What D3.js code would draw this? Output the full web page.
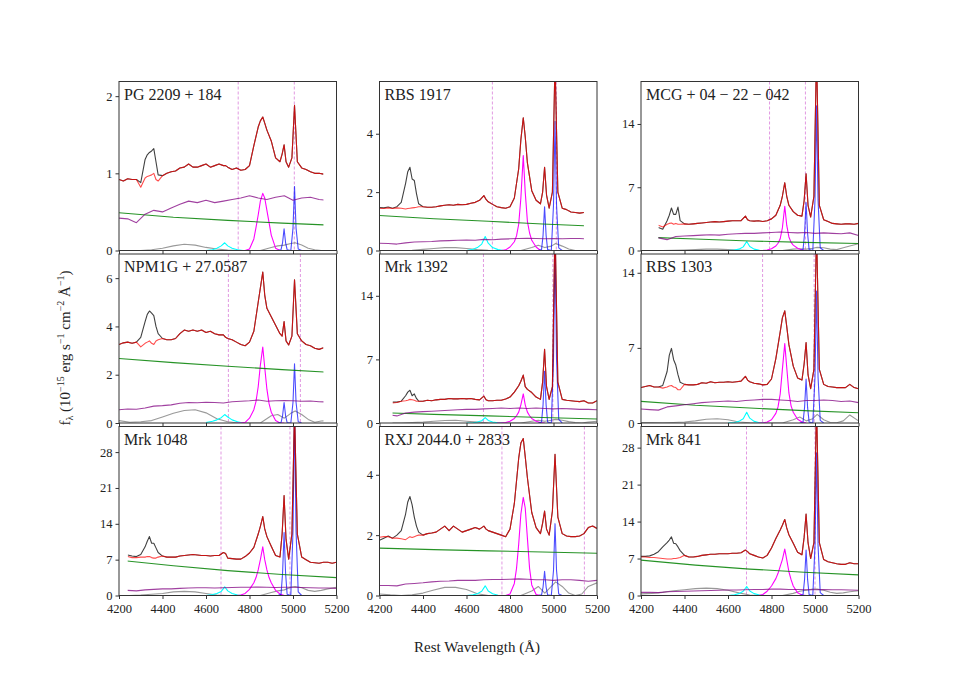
<!DOCTYPE html>
<html><head><meta charset="utf-8">
<script src="https://cdn.jsdelivr.net/npm/d3@7"></script>
<style>
body{margin:0;background:#fff}
svg{display:block}
text{font-family:"Liberation Serif","DejaVu Serif",serif;fill:#222}
</style>
</head><body>
<svg id="c" width="954" height="681"></svg>
<script>
// ---------- data ----------
const NAMES = ["PG 2209 + 184","RBS 1917","MCG + 04 − 22 − 042",
               "NPM1G + 27.0587","Mrk 1392","RBS 1303",
               "Mrk 1048","RXJ 2044.0 + 2833","Mrk 841"];
const YMAX = [2.19, 5.79, 18.7, 7.0, 18.6, 15.75, 33.0, 5.6, 32.0];
const YTICKS = [[0,1,2],[0,2,4],[0,7,14],[0,2,4,6],[0,7,14],[0,7,14],[0,7,14,21,28],[0,2,4],[0,7,14,21,28]];
const XTICKS = [4200,4400,4600,4800,5000,5200];
const RANGE = [[4200,5140],[4200,5140],[4280,5200],[4200,5140],[4260,5200],[4200,5200],[4240,5200],[4200,5200],[4200,5200]];
const VLINES = [[4748,5006],[4719,5013],[4791,4956],[4703,5034],[4678,4997],[4759,4996],[4669,4986],[4763,5142],[4685,5000]];

// wavelength grid for observed spectrum and total model
const WAVE = [4200,4220,4240,4260,4280, 4300,4320,4330,4340,4350,4360,4370,4380,
  4400,4420,4440,4460,4480,4500,4520,4540,4560,4580,4600,4620,4640,4660,4680,
  4690,4700,4720,4740,4760,4780,4800,4820,4840, 4850,4861,4870,4880,4900,4920,4940,
  4950,4959,4968,4980,4995,5007, 5020,5040,5060,5080,5100,5120,5140,5160,5180,5200];

const OBS = [
 [0.92,0.90,0.93,0.92,0.92, 0.88,1.18,1.24,1.27,1.29,1.32,1.15,0.98, 0.97,1.00,1.02,1.03,1.07,1.08,1.12,1.08,1.08,1.10,1.12,1.08,1.10,1.12,1.10, 1.10,1.08,1.05,1.07,1.04,1.05,1.10,1.36,1.60, 1.68,1.73,1.65,1.56,1.42,1.20,1.15, 1.25,1.37,1.15,1.08,1.20,1.88, 1.15,1.07,1.05,1.02,1.00,1.00,0.99,null,null,null],
 [1.47,1.46,1.49,1.45,1.50, 1.65,2.30,2.70,2.85,2.45,2.40,1.95,1.60, 1.50,1.48,1.48,1.50,1.53,1.55,1.57,1.55,1.58,1.57,1.58,1.62,1.65,1.72,1.88, 1.75,1.67,1.58,1.50,1.47,1.45,1.50,1.80,2.80, 3.80,4.55,3.90,3.00,2.05,1.72,1.60, 2.00,2.85,1.90,1.45,2.00,6.50, 2.00,1.45,1.40,1.32,1.30,1.28,1.30,null,null,null],
 [null,null,null,null,2.55, 2.35,3.30,3.90,4.70,4.00,4.00,4.80,3.30, 2.95,2.90,2.95,3.00,3.05,3.10,3.15,3.20,3.15,3.20,3.25,3.30,3.30,3.30,3.80, 3.40,3.30,3.25,3.30,3.20,3.30,3.50,3.90,5.00, 6.00,7.50,6.00,5.00,4.30,3.90,3.80, 5.50,8.50,5.00,3.70,6.00,22.0, 5.00,3.40,3.20,3.00,2.95,2.90,2.95,2.95,2.90,3.00],
 [3.25,3.32,3.35,3.30,3.35, 3.55,4.20,4.50,4.64,4.55,4.45,4.00,3.70, 3.50,3.45,3.45,3.50,3.70,3.85,3.80,3.85,3.80,3.85,3.75,3.80,3.70,3.65,3.65, 3.55,3.50,3.45,3.35,3.25,3.20,3.35,3.80,5.00, 5.60,6.25,5.30,4.75,4.40,4.05,3.70, 3.60,4.20,3.40,3.23,3.60,5.93, 3.70,3.40,3.25,3.20,3.10,3.05,3.12,null,null,null],
 [null,null,null,2.30,2.30, 2.40,3.00,3.40,3.60,3.00,3.20,2.70,2.40, 2.40,2.50,2.45,2.55,2.60,2.60,2.70,2.65,2.65,2.70,2.65,2.70,2.60,2.55,2.95, 2.55,2.45,2.45,2.50,2.50,2.65,2.85,3.40,4.10, 4.60,5.27,4.00,3.70,3.35,2.85,2.60, 4.50,8.10,4.00,2.60,4.00,22.0, 4.50,2.60,2.50,2.45,2.40,2.35,2.45,2.20,2.20,2.45],
 [3.30,3.40,3.50,3.35,3.35, 3.50,4.80,6.30,6.95,5.90,5.40,4.50,3.80, 3.60,3.55,3.55,3.60,3.75,3.70,3.85,3.75,3.80,3.80,3.85,3.80,3.85,3.90,4.35, 4.00,3.85,3.70,3.65,3.55,3.60,4.10,6.00,8.50, 9.80,10.45,9.00,7.30,5.30,4.20,4.00, 5.50,7.50,4.50,3.20,5.00,18.0, 5.00,3.60,3.40,3.35,3.30,3.30,3.30,3.60,3.30,3.20],
 [null,null,7.90,7.70,7.60, 8.00,9.50,10.60,11.50,10.20,10.20,9.30,8.40, 7.70,7.50,7.50,7.50,7.70,7.80,7.90,8.00,7.90,7.80,7.80,7.70,7.80,7.80,8.40, 8.20,7.30,7.20,7.10,7.10,7.60,8.30,9.40,12.00, 13.50,15.40,13.00,11.50,9.60,7.80,7.50, 12.00,19.50,11.00,7.10,12.00,36.0, 12.00,7.50,7.00,6.50,6.40,6.30,6.50,6.50,6.30,6.50],
 [1.83,1.90,1.97,1.90,2.00, 2.15,2.70,3.10,3.28,3.00,2.60,2.30,2.10, 2.00,2.05,2.07,2.10,2.20,2.30,2.15,2.30,2.20,2.10,2.15,2.20,2.25,2.20,2.30, 2.20,2.15,2.10,2.05,2.00,1.95,2.20,3.05,4.55, 5.05,5.20,4.60,3.90,2.75,2.25,2.05, 2.40,2.80,2.20,2.00,2.80,4.68, 2.60,2.05,1.97,1.95,1.95,1.97,2.05,2.25,2.30,2.22],
 [7.40,7.40,7.50,7.80,8.30, 9.20,10.00,10.50,11.10,9.90,9.80,9.20,8.50, 7.60,7.30,7.30,7.40,7.60,7.70,7.80,7.80,7.90,7.90,7.90,8.00,8.00,8.10,8.60, 8.30,7.90,7.60,7.30,7.10,7.60,9.00,10.80,12.40, 13.30,14.40,12.80,11.50,9.90,8.20,7.70, 11.00,15.40,10.00,7.00,10.00,36.0, 10.00,6.80,6.40,6.20,6.00,5.90,5.90,6.20,6.00,6.00]
];

const MODEL = [
 [0.92,0.90,0.93,0.92,0.92, 0.82,0.94,0.96,0.97,0.98,1.00,0.92,0.90, 0.97,1.00,1.02,1.03,1.07,1.08,1.12,1.08,1.08,1.10,1.12,1.08,1.10,1.12,1.10, 1.10,1.08,1.05,1.07,1.04,1.05,1.10,1.36,1.60, 1.68,1.73,1.65,1.56,1.42,1.20,1.15, 1.25,1.37,1.15,1.08,1.20,1.88, 1.15,1.07,1.05,1.02,1.00,1.00,0.99,null,null,null],
 [1.45,1.44,1.46,1.44,1.46, 1.45,1.42,1.44,1.45,1.46,1.47,1.48,1.50, 1.50,1.48,1.48,1.50,1.53,1.55,1.57,1.55,1.58,1.57,1.58,1.62,1.65,1.72,1.88, 1.75,1.67,1.58,1.50,1.47,1.45,1.50,1.80,2.80, 3.80,4.55,3.90,3.00,2.05,1.72,1.60, 2.00,2.85,1.90,1.45,2.00,6.50, 2.00,1.45,1.40,1.32,1.30,1.28,1.30,null,null,null],
 [null,null,null,null,2.80, 2.60,2.90,3.00,3.05,2.90,3.00,2.90,2.90, 2.95,2.90,2.95,3.00,3.05,3.10,3.15,3.20,3.15,3.20,3.25,3.30,3.30,3.30,3.80, 3.40,3.30,3.25,3.30,3.20,3.30,3.50,3.90,5.00, 6.00,7.50,6.00,5.00,4.30,3.90,3.80, 5.50,8.50,5.00,3.70,6.00,22.0, 5.00,3.40,3.20,3.00,2.95,2.90,2.95,2.95,2.90,3.00],
 [3.25,3.32,3.35,3.30,3.35, 3.15,3.30,3.35,3.40,3.30,3.25,3.40,3.45, 3.50,3.45,3.45,3.50,3.70,3.85,3.80,3.85,3.80,3.85,3.75,3.80,3.70,3.65,3.65, 3.55,3.50,3.45,3.35,3.25,3.20,3.35,3.80,5.00, 5.60,6.25,5.30,4.75,4.40,4.05,3.70, 3.60,4.20,3.40,3.23,3.60,5.93, 3.70,3.40,3.25,3.20,3.10,3.05,3.12,null,null,null],
 [null,null,null,2.20,2.25, 2.40,2.45,2.50,2.60,2.55,2.50,2.40,2.40, 2.40,2.50,2.45,2.55,2.60,2.60,2.70,2.65,2.65,2.70,2.65,2.70,2.60,2.55,2.95, 2.55,2.45,2.45,2.50,2.50,2.65,2.85,3.40,4.10, 4.60,5.27,4.00,3.70,3.35,2.85,2.60, 4.50,8.10,4.00,2.60,4.00,22.0, 4.50,2.60,2.50,2.45,2.40,2.35,2.45,2.20,2.20,2.45],
 [3.30,3.40,3.50,3.35,3.35, 3.25,3.35,3.45,3.50,3.35,3.30,3.10,3.10, 3.60,3.55,3.55,3.60,3.75,3.70,3.85,3.75,3.80,3.80,3.85,3.80,3.85,3.90,4.35, 4.00,3.85,3.70,3.65,3.55,3.60,4.10,6.00,8.50, 9.80,10.45,9.00,7.30,5.30,4.20,4.00, 5.50,7.50,4.50,3.20,5.00,18.0, 5.00,3.60,3.40,3.35,3.30,3.30,3.30,3.60,3.30,3.20],
 [null,null,7.60,7.40,7.40, 7.50,7.50,7.60,7.60,7.40,7.30,7.30,7.50, 7.70,7.50,7.50,7.50,7.70,7.80,7.90,8.00,7.90,7.80,7.80,7.70,7.80,7.80,8.40, 8.20,7.30,7.20,7.10,7.10,7.60,8.30,9.40,12.00, 13.50,15.40,13.00,11.50,9.60,7.80,7.50, 12.00,19.50,11.00,7.10,12.00,36.0, 12.00,7.50,7.00,6.50,6.40,6.30,6.50,6.50,6.30,6.50],
 [1.93,1.95,1.95,1.90,1.90, 1.88,1.85,1.90,1.95,1.92,1.95,1.98,2.00, 2.00,2.05,2.07,2.10,2.20,2.30,2.15,2.30,2.20,2.10,2.15,2.20,2.25,2.20,2.30, 2.20,2.15,2.10,2.05,2.00,1.95,2.20,3.05,4.55, 5.05,5.20,4.60,3.90,2.75,2.25,2.05, 2.40,2.80,2.20,2.00,2.80,4.68, 2.60,2.05,1.97,1.95,1.95,1.97,2.05,2.25,2.30,2.22],
 [7.30,7.30,7.20,7.20,7.10, 7.00,6.90,6.90,6.90,7.00,7.00,7.10,7.20, 7.60,7.30,7.30,7.40,7.60,7.70,7.80,7.80,7.90,7.90,7.90,8.00,8.00,8.10,8.60, 8.30,7.90,7.60,7.30,7.10,7.60,9.00,10.80,12.40, 13.30,14.40,12.80,11.50,9.90,8.20,7.70, 11.00,15.40,10.00,7.00,10.00,36.0, 10.00,6.80,6.40,6.20,6.00,5.90,5.90,6.20,6.00,6.00]
];

// Fe II template (purple)
const FE_WAVE = [4200,4240,4280,4320,4360,4400,4440,4480,4520,4560,4600,4640,4680,4720,4760,4800,4840,4880,4920,4960,5000,5040,5080,5120,5160,5200];
const FE = [
 [0.42,0.41,0.36,0.47,0.52,0.50,0.55,0.60,0.64,0.62,0.65,0.62,0.64,0.66,0.68,0.71,0.68,0.66,0.69,0.71,0.65,0.68,0.69,0.66,0.65,0.64],
 [0.25,0.24,0.22,0.26,0.29,0.30,0.31,0.33,0.34,0.35,0.36,0.35,0.38,0.37,0.39,0.40,0.41,0.42,0.41,0.40,0.41,0.40,0.41,0.41,0.40,0.40],
 [1.40,1.40,1.40,1.20,1.55,1.60,1.65,1.70,1.75,1.70,1.80,1.85,1.90,1.90,1.95,2.00,2.05,2.00,1.95,2.00,1.90,1.95,1.90,1.85,1.95,1.65],
 [0.55,0.58,0.57,0.62,0.70,0.72,0.75,0.82,0.85,0.84,0.86,0.85,0.83,0.88,0.90,0.92,0.95,0.90,0.92,0.93,0.92,0.90,0.91,0.88,0.87,0.87],
 [0.95,0.92,0.78,1.10,1.20,1.25,1.30,1.35,1.40,1.45,1.50,1.50,1.55,1.60,1.65,1.60,1.65,1.60,1.65,1.60,1.55,1.60,1.55,1.50,1.50,1.45],
 [1.30,1.25,1.20,1.50,1.60,1.70,1.80,1.90,1.95,2.00,2.05,2.00,2.10,2.15,2.20,2.20,2.15,2.10,2.00,2.10,2.10,2.15,2.10,2.00,2.05,1.90],
 [1.00,1.00,0.90,1.10,1.20,1.30,1.30,1.40,1.45,1.50,1.50,1.45,1.50,1.55,1.60,1.60,1.65,1.60,1.55,1.60,1.60,1.55,1.50,1.45,1.45,1.40],
 [0.33,0.33,0.32,0.38,0.40,0.42,0.45,0.47,0.48,0.50,0.50,0.50,0.52,0.53,0.53,0.54,0.55,0.54,0.52,0.52,0.50,0.52,0.52,0.50,0.47,0.50],
 [0.60,0.60,0.55,0.70,0.75,0.80,0.85,0.90,0.95,1.00,1.05,1.05,1.10,1.15,1.15,1.20,1.20,1.15,1.15,1.10,1.10,1.15,1.10,1.10,1.05,1.00]
];

// other broad components (gray)
const GRAY_WAVE = [4200,4250,4300,4350,4400,4450,4500,4550,4600,4650,4700,4750,4800,4850,4900,4930,4960,4990,5010,5040,5070,5100,5130,5160,5200];
const GRAY = [
 [0,0,0,0.01,0.03,0.06,0.08,0.07,0.04,0.02,0.005,0,0,0,0.04,0.06,0.07,0.09,0.10,0.07,0.03,0.01,0,0,0],
 [0,0,0,0.01,0.04,0.07,0.10,0.10,0.07,0.03,0.01,0,0,0,0.10,0.18,0.10,0.15,0.24,0.15,0.05,0,0,0,0],
 [0,0,0,0.02,0.05,0.10,0.15,0.15,0.10,0.05,0,0,0,0,0.15,0.20,0.15,0.25,0.35,0.30,0.15,0.10,0.30,0.50,0.75],
 [0.10,0.03,0.05,0.10,0.25,0.40,0.52,0.55,0.42,0.18,0.05,0,0,0,0.30,0.35,0.20,0.40,0.50,0.35,0.15,0.03,0.08,0.10,0.10],
 [0,0,0,0.05,0.10,0.20,0.28,0.30,0.20,0.10,0.02,0,0,0,0.20,0.30,0.20,0.30,0.40,0.30,0.15,0.05,0,0.10,0.20],
 [0.05,0.05,0.02,0.05,0.10,0.20,0.35,0.40,0.30,0.10,0.02,0,0,0,0.30,0.55,0.20,0.40,0.80,0.30,0.05,0.02,0.20,0.75,0.20],
 [0,0,0.10,0.25,0.40,0.70,0.80,0.70,0.40,0.10,0,0,0,0,0.60,0.90,1.10,1.60,1.75,1.50,1.00,0.80,1.00,1.30,1.60],
 [0.05,0.02,0,0.02,0.08,0.18,0.27,0.27,0.20,0.06,0,0,0,0,0.15,0.30,0.08,0.30,0.45,0.30,0.08,0,0.05,0.30,0.42],
 [0.30,0.40,0.60,0.90,1.10,1.30,1.40,1.30,1.00,0.50,0.10,0,0,0,0.40,0.80,1.00,1.20,1.20,1.00,0.60,0.40,0.50,0.70,0.90]
];

// power-law continuum (green)
const PL_WAVE = [4200,4450,4700,4950,5200];
const PL = [
 [0.49,0.43,0.39,0.355,0.325],
 [1.20,1.09,1.00,0.91,0.83],
 [1.50,1.27,1.05,0.90,0.78],
 [2.67,2.50,2.35,2.21,2.08],
 [1.15,0.95,0.78,0.60,0.44],
 [2.02,1.65,1.40,1.15,0.96],
 [6.90,5.80,4.85,4.10,3.50],
 [1.57,1.52,1.48,1.44,1.40],
 [6.70,5.75,5.00,4.40,3.90]
];

// broad H-beta (magenta)
const HB_WAVE = [4740,4760,4780,4800,4820,4830,4840,4850,4861,4870,4880,4890,4900,4920,4940,4960];
const HB = [
 [0,0,0,0.02,0.15,0.30,0.46,0.64,0.74,0.68,0.52,0.36,0.20,0.03,0,0],
 [0,0,0.02,0.12,0.30,0.50,0.90,1.80,3.25,2.00,1.00,0.60,0.35,0.12,0,0],
 [0,0,0.05,0.20,0.50,0.80,1.30,2.50,4.90,2.80,1.50,0.90,0.60,0.25,0.05,0],
 [0,0,0.03,0.20,0.55,0.90,1.50,2.40,3.15,2.30,1.40,0.80,0.45,0.10,0,0],
 [0,0,0.05,0.20,0.50,0.80,1.20,2.00,3.20,2.00,1.20,0.80,0.50,0.20,0.05,0],
 [0,0,0.10,0.30,0.90,1.50,2.70,5.00,7.40,5.20,2.80,1.60,1.00,0.35,0.10,0],
 [0,0.10,0.40,1.20,2.50,3.50,5.00,7.00,9.50,7.00,5.00,3.50,2.50,1.00,0.30,0],
 [0,0,0,0.05,0.40,0.90,1.70,2.70,3.25,2.90,1.90,0.90,0.35,0.03,0,0],
 [0,0.20,0.80,1.80,3.20,4.20,5.50,6.80,8.80,6.80,4.50,3.00,1.80,0.50,0.10,0]
];

// [O III] 4959, 5007 (blue)
const OIII_WAVE = [4930,4945,4952,4959,4966,4973,4990,5000,5007,5014,5024,5040];
const OIII = [
 [0,0.01,0.10,0.28,0.10,0.01,0,0.29,0.83,0.29,0.02,0],
 [0,0.03,0.52,1.50,0.52,0.03,0,1.55,4.43,1.55,0.09,0],
 [0,0.10,1.85,5.30,1.85,0.10,0,5.60,16.0,5.60,0.30,0],
 [0,0.02,0.30,0.85,0.30,0.02,0,0.86,2.45,0.86,0.05,0],
 [0,0.10,2.00,5.70,2.00,0.10,0,7.00,20.0,7.00,0.40,0],
 [0,0.08,1.43,4.10,1.43,0.08,0,4.30,12.3,4.30,0.25,0],
 [0,0.25,4.30,12.3,4.30,0.25,0,12.6,36.0,12.6,0.70,0],
 [0,0.02,0.28,0.80,0.28,0.02,0,0.83,2.38,0.83,0.05,0],
 [0,0.17,3.00,8.60,3.00,0.17,0,9.50,27.0,9.50,0.54,0]
];

// He II 4686 (cyan)
const HEII_WAVE = [4600,4630,4650,4670,4686,4700,4720,4745,4770];
const HEII = [
 [0,0.01,0.03,0.06,0.10,0.06,0.03,0.01,0],
 [0,0.04,0.10,0.22,0.48,0.25,0.10,0.03,0],
 [0,0.05,0.15,0.40,1.00,0.45,0.15,0.03,0],
 [0.02,0.07,0.13,0.22,0.35,0.25,0.13,0.05,0],
 [0,0.03,0.10,0.25,0.60,0.28,0.10,0.03,0],
 [0,0.05,0.15,0.40,1.00,0.45,0.15,0.03,0],
 [0,0.20,0.40,0.80,1.70,0.90,0.40,0.10,0],
 [0,0.02,0.06,0.14,0.32,0.15,0.06,0.01,0],
 [0,0.15,0.35,0.80,1.70,0.85,0.35,0.10,0]
];

// ---------- drawing ----------
const svg = d3.select('#c');
const defs = svg.append('defs');
const COL_L = [119, 379.5, 641], ROW_T = [81.5, 254, 426.5];
const PW = 217.5, PH = 169;

function pairs(ws, vs){ return ws.map((w,k)=>[w, vs[k]]); }

NAMES.forEach((name, i) => {
  const r = Math.floor(i/3), c = i%3;
  const g = svg.append('g').attr('transform', `translate(${COL_L[c]},${ROW_T[r]})`);
  const x = d3.scaleLinear().domain([4200,5200]).range([0,PW]);
  const y = d3.scaleLinear().domain([0,YMAX[i]]).range([PH,0]);

  const x0 = Math.max(0, x(RANGE[i][0])), x1 = Math.min(PW, x(RANGE[i][1]));
  defs.append('clipPath').attr('id','cp'+i).append('rect')
      .attr('x',x0).attr('y',0).attr('width',x1-x0).attr('height',PH);

  // dashed vertical lines
  VLINES[i].forEach(w => {
    g.append('line').attr('x1',x(w)).attr('x2',x(w)).attr('y1',0).attr('y2',PH)
     .attr('stroke','#dd88dd').attr('stroke-width',1).attr('stroke-dasharray','3,2').attr('opacity',0.85);
  });

  const line = d3.line().defined(d => d[1] != null).x(d => x(d[0])).y(d => y(d[1]));
  const dg = g.append('g').attr('clip-path', `url(#cp${i})`);
  const draw = (data, color, op, w) => dg.append('path').datum(data)
      .attr('d', line).attr('fill','none').attr('stroke',color)
      .attr('stroke-opacity',op).attr('stroke-width',w||1.1).attr('stroke-linejoin','round');

  draw(pairs(GRAY_WAVE, GRAY[i]), '#808080', 0.8);
  draw(pairs(HEII_WAVE, HEII[i]), '#00ffff', 1);
  draw(pairs(HB_WAVE, HB[i]), '#ff00ff', 1);
  draw(pairs(OIII_WAVE, OIII[i]), '#0000ff', 0.7);
  draw(pairs(PL_WAVE, PL[i]), '#008000', 0.85);
  draw(pairs(FE_WAVE, FE[i]), '#800080', 0.75);
  draw(pairs(WAVE, OBS[i]), '#000000', 0.75);
  draw(pairs(WAVE, MODEL[i]), '#ff0000', 0.7);

  // axes
  const ya = d3.axisLeft(y).tickValues(YTICKS[i]).tickSize(3.5).tickPadding(3).tickFormat(d3.format('d'));
  const yg = g.append('g').call(ya);
  const xa = d3.axisBottom(x).tickValues(XTICKS).tickSize(3.5).tickPadding(5)
      .tickFormat(r === 2 ? d3.format('d') : () => '');
  const xg = g.append('g').attr('transform', `translate(0,${PH})`).call(xa);
  [yg, xg].forEach(a => {
    a.select('.domain').remove();
    a.selectAll('line').attr('stroke','#333');
    a.selectAll('text').style('font-size','12.5px').attr('fill','#222');
  });
  g.append('rect').attr('x',0).attr('y',0).attr('width',PW).attr('height',PH)
   .attr('fill','none').attr('stroke','#333').attr('stroke-width',1);

  g.append('text').attr('x',5).attr('y',18).style('font-size','16px').text(name);
});

// axis titles
svg.append('text').attr('x',477).attr('y',652).attr('text-anchor','middle')
   .style('font-size','15px').text('Rest Wavelength (Å)');

const yl = svg.append('text').attr('transform','translate(70,348) rotate(-90)')
   .attr('text-anchor','middle').style('font-size','15px');
yl.append('tspan').text('f');
yl.append('tspan').attr('dy',3).style('font-size','10px').text('λ');
yl.append('tspan').attr('dy',-3).text(' (10');
yl.append('tspan').attr('dy',-6).style('font-size','10px').text('−15');
yl.append('tspan').attr('dy',6).text(' erg s');
yl.append('tspan').attr('dy',-6).style('font-size','10px').text('−1');
yl.append('tspan').attr('dy',6).text(' cm');
yl.append('tspan').attr('dy',-6).style('font-size','10px').text('−2');
yl.append('tspan').attr('dy',6).text(' Å');
yl.append('tspan').attr('dy',-6).style('font-size','10px').text('−1');
yl.append('tspan').attr('dy',6).text(')');
</script>
</body></html>
